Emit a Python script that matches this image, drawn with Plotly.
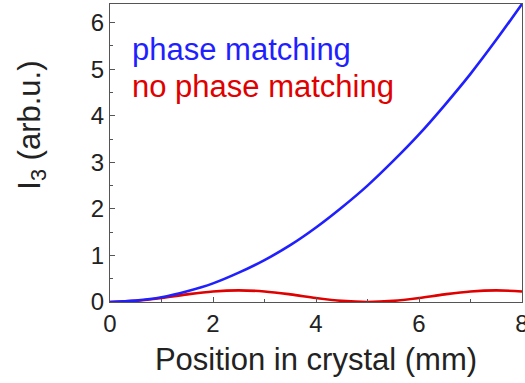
import plotly.graph_objects as go

# Crystal position (mm)
position = [0, 0.5, 1, 1.5, 2, 2.5, 3, 3.5, 4, 4.5, 5, 5.5, 6, 6.5, 7, 7.5, 8]
# Third-harmonic intensity with phase matching (quadratic growth)
i3_matched = [0, 0.03, 0.1, 0.23, 0.4, 0.63, 0.9, 1.22, 1.6, 2.03, 2.5,
              3.03, 3.6, 4.23, 4.9, 5.63, 6.4]
# Third-harmonic intensity without phase matching (oscillating)
i3_unmatched = [0, 0.024, 0.086, 0.164, 0.226, 0.25, 0.226, 0.164, 0.086,
                0.024, 0, 0.024, 0.086, 0.164, 0.226, 0.25, 0.226]

BLUE = "#1f1fff"
RED = "#e00000"
FONT = "Liberation Sans, Arial, sans-serif"

fig = go.Figure()
fig.add_trace(go.Scatter(x=position, y=i3_unmatched, mode="lines",
                         line=dict(color=RED, width=2.6, shape="spline"),
                         name="no phase matching"))
fig.add_trace(go.Scatter(x=position, y=i3_matched, mode="lines",
                         line=dict(color=BLUE, width=2.6, shape="spline"),
                         name="phase matching"))

axis_common = dict(
    showline=True, linecolor="#555", linewidth=1.2, mirror=True,
    ticks="inside", ticklen=5, tickcolor="#555", tickwidth=1,
    showgrid=False, zeroline=False, ticklabeloverflow="allow",
    automargin=False,
    tickfont=dict(family=FONT, size=24, color="#222"),
)

fig.update_xaxes(range=[0, 8], dtick=2, tick0=0,
                 minor=dict(ticks="inside", ticklen=3, dtick=1, tickcolor="#555"),
                 title=dict(text="Position in crystal (mm)",
                            font=dict(family=FONT, size=31, color="#222"), standoff=12),
                 **axis_common)
fig.update_yaxes(range=[0, 6.4], dtick=1, tick0=0,
                 minor=dict(ticks="inside", ticklen=3, dtick=0.5, tickcolor="#555"),
                 **axis_common)

# Vertical axis label, placed a little above the plot's middle
fig.add_annotation(x=-0.19, y=0.594, xref="paper", yref="paper",
                   text="I<sub>3</sub> (arb.u.)", textangle=-90, showarrow=False,
                   xanchor="center", yanchor="middle",
                   font=dict(family=FONT, size=31, color="#222"))

fig.add_annotation(x=0.39, y=5.42, xref="x", yref="y", text="phase matching",
                   showarrow=False, xanchor="left", yanchor="middle",
                   font=dict(family=FONT, size=31, color=BLUE))
fig.add_annotation(x=0.39, y=4.62, xref="x", yref="y", text="no phase matching",
                   showarrow=False, xanchor="left", yanchor="middle",
                   font=dict(family=FONT, size=31, color=RED))

fig.update_layout(
    width=525, height=383,
    margin=dict(l=110, r=3, t=4, b=81),
    paper_bgcolor="white", plot_bgcolor="white",
    showlegend=False,
)

fig.write_html("out.html")
